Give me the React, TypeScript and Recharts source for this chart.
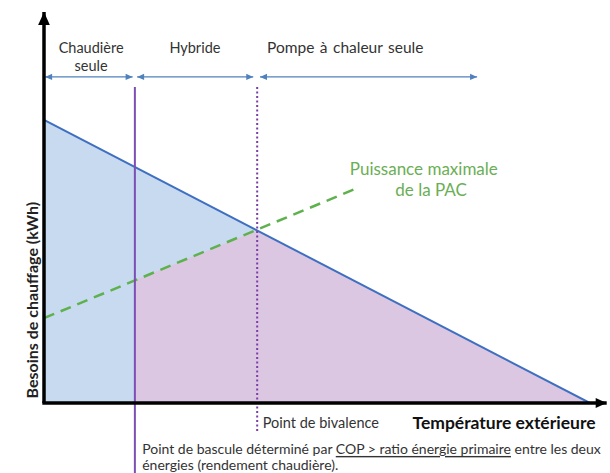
import {
  ComposedChart,
  Area,
  Line,
  XAxis,
  YAxis,
  ReferenceLine,
  ReferenceDot,
} from 'recharts'

// schematic values (x = outdoor temp scale, y = heating need)
const boilerZone = [
  { x: 0, y: 72.4 },
  { x: 16.2, y: 60.3 },
  { x: 38, y: 44.2 },
]
const pacZone = [
  { x: 16.2, y: 31.4 },
  { x: 38, y: 44.2 },
  { x: 97.3, y: 0 },
]
const demandLine = [
  { x: 0, y: 72.4 },
  { x: 97.3, y: 0 },
]
const pacMaxLine = [
  { x: 0, y: 21.7 },
  { x: 55.4, y: 54.7 },
]
const switchPoint = 16.2
const bivalencePoint = 38

const FONT = 'Lato, "Open Sans", sans-serif'
const ZONE_BLUE = '#4f81bd'

// line with arrow heads, endpoints come from recharts
function arrowShape(color: string, width: number, head: number, both: boolean) {
  return (p: any) => {
    const { x1, y1, x2, y2 } = p
    const a = Math.atan2(y2 - y1, x2 - x1)
    const headAt = (x: number, y: number, ang: number) => {
      const hw = head * 0.45
      const bx = x - Math.cos(ang) * head
      const by = y - Math.sin(ang) * head
      const nx = -Math.sin(ang) * hw
      const ny = Math.cos(ang) * hw
      return `${x},${y} ${bx + nx},${by + ny} ${bx - nx},${by - ny}`
    }
    return (
      <g>
        <line x1={x1} y1={y1} x2={x2} y2={y2} stroke={color} strokeWidth={width} />
        <polygon points={headAt(x2, y2, a)} fill={color} />
        {both && <polygon points={headAt(x1, y1, a + Math.PI)} fill={color} />}
      </g>
    )
  }
}

function note(
  x: number,
  y: number,
  text: string,
  opts: { size?: number; color?: string; bold?: boolean; anchor?: string; angle?: number; ws?: number } = {}
) {
  const { size = 14.5, color = '#333', bold = false, anchor = 'middle', angle = 0, ws = 0 } = opts
  return (
    <ReferenceDot
      key={text + x + y}
      x={x}
      y={y}
      r={0}
      fill="none"
      stroke="none"
      ifOverflow="visible"
      label={(lp: any) => {
        const vb = lp.viewBox || {}
        const cx = (vb.x ?? 0) + (vb.width ?? 0) / 2
        const cy = (vb.y ?? 0) + (vb.height ?? 0) / 2
        return (
          <text
            x={cx}
            y={cy}
            textAnchor={anchor as any}
            dominantBaseline="central"
            fontFamily={FONT}
            fontSize={size}
            fontWeight={bold ? 700 : 400}
            fill={color}
            wordSpacing={ws}
            transform={angle ? `rotate(${angle} ${cx} ${cy})` : undefined}
          >
            {text}
          </text>
        )
      }}
    />
  )
}

export default function App() {
  return (
    <div style={{ position: 'absolute', left: 0, top: 0, background: '#fff' }}>
      <ComposedChart
        width={610}
        height={473}
        margin={{ top: 12, right: 5, left: 44, bottom: 70 }}
      >
        <XAxis dataKey="x" type="number" domain={[0, 100]} hide allowDataOverflow />
        <YAxis type="number" domain={[0, 100]} hide allowDataOverflow />

        <Area
          data={boilerZone}
          dataKey="y"
          type="linear"
          fill="#c7daf0"
          fillOpacity={1}
          stroke="none"
          isAnimationActive={false}
        />
        <Area
          data={pacZone}
          dataKey="y"
          type="linear"
          fill="#dcc7e2"
          fillOpacity={1}
          stroke="none"
          isAnimationActive={false}
        />
        <Line
          data={demandLine}
          dataKey="y"
          type="linear"
          stroke="#3f6fc0"
          strokeWidth={2}
          dot={false}
          isAnimationActive={false}
        />
        <Line
          data={pacMaxLine}
          dataKey="y"
          type="linear"
          stroke="#5fb14e"
          strokeWidth={2.5}
          strokeDasharray="11 7"
          dot={false}
          isAnimationActive={false}
        />

        {/* boiler / heat pump switch and bivalence point */}
        <ReferenceLine
          segment={[{ x: switchPoint, y: 80.8 }, { x: switchPoint, y: -18 }]}
          stroke="#7d4fb3"
          strokeWidth={2}
          ifOverflow="visible"
        />
        <ReferenceLine
          segment={[{ x: bivalencePoint, y: 80.8 }, { x: bivalencePoint, y: -7.6 }]}
          stroke="#7a3fa6"
          strokeWidth={2}
          strokeDasharray="2 2.5"
          ifOverflow="visible"
        />

        {/* zone arrows */}
        <ReferenceLine
          segment={[{ x: 0.2, y: 83.4 }, { x: 15.8, y: 83.4 }]}
          ifOverflow="visible"
          shape={arrowShape(ZONE_BLUE, 1.3, 7, true)}
        />
        <ReferenceLine
          segment={[{ x: 16.6, y: 83.4 }, { x: 37.3, y: 83.4 }]}
          ifOverflow="visible"
          shape={arrowShape(ZONE_BLUE, 1.3, 7, true)}
        />
        <ReferenceLine
          segment={[{ x: 38.5, y: 83.4 }, { x: 77.2, y: 83.4 }]}
          ifOverflow="visible"
          shape={arrowShape(ZONE_BLUE, 1.3, 7, true)}
        />

        {/* axes with arrow heads */}
        <ReferenceLine
          segment={[{ x: 0, y: 0 }, { x: 0, y: 100 }]}
          ifOverflow="visible"
          shape={arrowShape('#000', 3.5, 13, false)}
        />
        <ReferenceLine
          segment={[{ x: -0.3, y: 0 }, { x: 100.3, y: 0 }]}
          ifOverflow="visible"
          shape={arrowShape('#000', 3.5, 11, false)}
        />

        {note(8.4, 91.0, 'Chaudière')}
        {note(8.4, 86.4, 'seule')}
        {note(26.9, 91.0, 'Hybride')}
        {note(53.7, 91.0, 'Pompe à chaleur seule', { size: 15.5, ws: 1.5 })}
        {note(67.7, 60.1, 'Puissance maximale', { size: 17, color: '#6aae55' })}
        {note(69.0, 54.7, 'de la PAC', { size: 17, color: '#6aae55' })}
        {note(39.0, -5.1, 'Point de bivalence', { size: 14.5, anchor: 'start' })}
        {note(82.0, -5.1, 'Température extérieure', { size: 17.5, color: '#111', bold: true })}
        {note(-2.3, 26.3, 'Besoins de chauffage (kWh)', { size: 16, color: '#222', bold: true, angle: -90 })}

        <ReferenceDot
          x={17.5}
          y={-11.5}
          r={0}
          fill="none"
          stroke="none"
          ifOverflow="visible"
          label={(lp: any) => {
            const vb = lp.viewBox || {}
            const x = (vb.x ?? 0) + (vb.width ?? 0) / 2
            const y = (vb.y ?? 0) + (vb.height ?? 0) / 2
            return (
              <text x={x} y={y} dominantBaseline="central" fontFamily={FONT} fontSize={14} fill="#333">
                <tspan>Point de bascule déterminé par </tspan>
                <tspan textDecoration="underline">COP &gt; ratio énergie primaire</tspan>
                <tspan> entre les deux</tspan>
                <tspan x={x} dy={16}>énergies (rendement chaudière).</tspan>
              </text>
            )
          }}
        />
      </ComposedChart>
    </div>
  )
}
